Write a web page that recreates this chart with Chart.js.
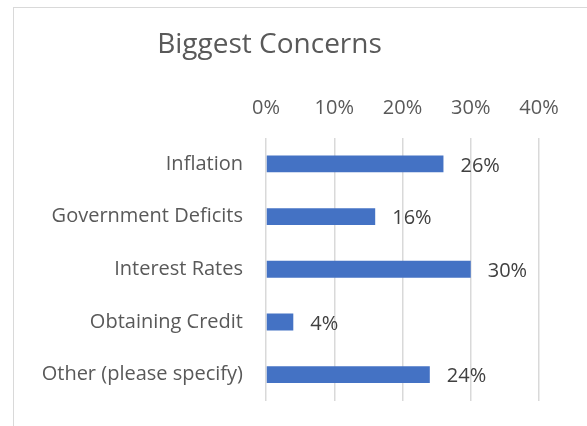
<!DOCTYPE html>
<html>
<head>
<meta charset="utf-8">
<script src="https://cdn.jsdelivr.net/npm/chart.js@4"></script>
<style>
  html, body { margin: 0; padding: 0; background: #ffffff; }
  #wrap { position: relative; width: 587px; height: 426px; overflow: hidden; }
  #frame { position: absolute; left: 13px; top: 7px; width: 620px; height: 460px; border: 1px solid #d9d9d9; box-sizing: border-box; pointer-events: none; }
  canvas { position: absolute; left: 0; top: 0; }
</style>
</head>
<body>
<div id="wrap">
  <canvas id="c" width="587" height="426"></canvas>
  <div id="frame"></div>
</div>
<script>
const categories = ["Inflation", "Government Deficits", "Interest Rates", "Obtaining Credit", "Other (please specify)"];
const values = [0.26, 0.16, 0.30, 0.04, 0.24];
const tickValues = [0, 0.1, 0.2, 0.3, 0.4];
const chartTitle = "Biggest Concerns";

const FONT = "'Open Sans', Lato, sans-serif";

const dataLabels = {
  id: 'dataLabels',
  afterDatasetsDraw(chart) {
    const ctx = chart.ctx;
    const meta = chart.getDatasetMeta(0);
    ctx.save();
    ctx.font = "20px " + FONT;
    ctx.fillStyle = "#404040";
    ctx.textAlign = "left";
    ctx.textBaseline = "middle";
    meta.data.forEach((bar, i) => {
      const v = chart.data.datasets[0].data[i];
      ctx.fillText(Math.round(v * 100) + "%", bar.x + 17, bar.y + 2);
    });
    ctx.restore();
  }
};

new Chart(document.getElementById('c'), {
  type: 'bar',
  data: {
    labels: categories,
    datasets: [{
      data: values,
      backgroundColor: '#4472C4',
      borderWidth: 0,
      barPercentage: 0.32,
      categoryPercentage: 1.0
    }]
  },
  options: {
    indexAxis: 'y',
    responsive: false,
    animation: false,
    devicePixelRatio: 1,
    layout: { padding: { left: 0, right: 48, top: 0, bottom: 25 } },
    plugins: {
      legend: { display: false },
      tooltip: { enabled: false },
      title: {
        display: true,
        text: chartTitle,
        color: '#595959',
        font: { family: FONT, size: 28, weight: 'normal', lineHeight: 1.2 },
        padding: { top: 28, bottom: 10 }
      }
    },
    scales: {
      x: {
        position: 'top',
        min: 0,
        max: 0.4,
        afterBuildTicks(scale) { scale.ticks = tickValues.map(v => ({ value: v })); },
        afterFit(scale) { scale.height = 138 - 72; },
        ticks: {
          color: '#595959',
          font: { family: FONT, size: 20, lineHeight: 1.2 },
          padding: 17,
          callback: (v) => Math.round(v * 100) + '%'
        },
        grid: { color: '#d9d9d9', lineWidth: 1.5, drawTicks: false },
        border: { display: false }
      },
      y: {
        afterFit(scale) {
          scale.width = 266;
          scale.paddingTop = 0;
          scale.paddingBottom = 0;
        },
        ticks: {
          color: '#595959',
          font: { family: FONT, size: 20 },
          padding: 23
        },
        grid: { display: false, drawTicks: false },
        border: { display: false }
      }
    }
  },
  plugins: [dataLabels]
});
</script>
</body>
</html>
